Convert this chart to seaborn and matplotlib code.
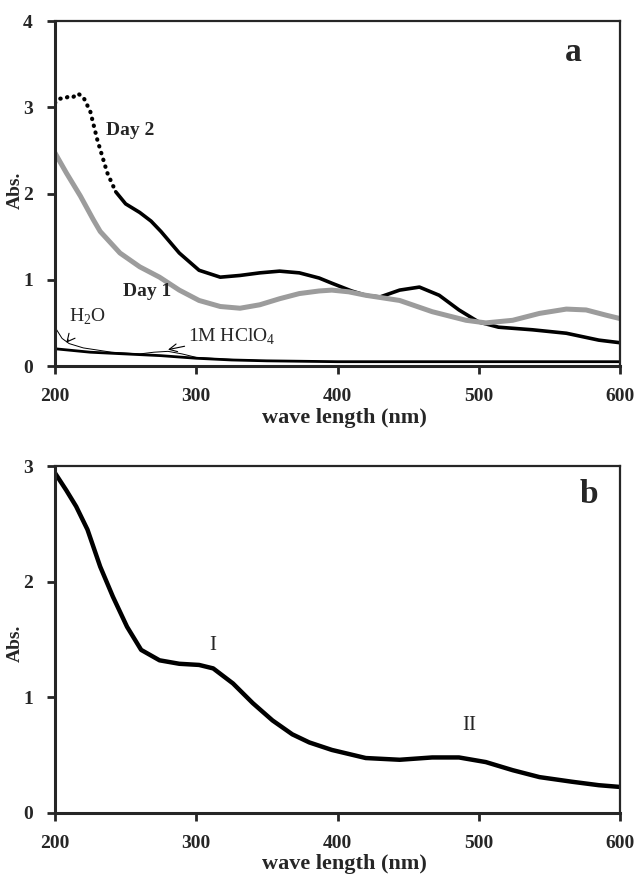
import pandas as pd
import numpy as np
import matplotlib
matplotlib.use("Agg")
import matplotlib.pyplot as plt
import seaborn as sns

# panel a spectra
day2_nm = [200, 203, 207, 210, 213, 216, 220, 225, 230, 237, 243, 250, 260, 268, 275, 288,
           302, 317, 331, 345, 359, 373, 387, 396, 410, 420, 430, 444, 458, 472, 486, 500,
           514, 538, 562, 585, 600]
day2_abs = [3.05, 3.10, 3.10, 3.13, 3.12, 3.16, 3.12, 2.95, 2.62, 2.24, 2.02, 1.88, 1.78, 1.68,
            1.56, 1.31, 1.11, 1.03, 1.05, 1.08, 1.10, 1.08, 1.02, 0.96, 0.87, 0.82, 0.80, 0.88,
            0.915, 0.82, 0.65, 0.51, 0.45, 0.42, 0.38, 0.30, 0.27]

day1_nm = [200, 208, 218, 227, 232, 246, 260, 274, 288, 302, 317, 331, 345, 359, 373, 387,
           396, 408, 420, 444, 467, 491, 505, 524, 543, 562, 576, 590, 600]
day1_abs = [2.47, 2.24, 1.97, 1.70, 1.56, 1.31, 1.15, 1.03, 0.88, 0.76, 0.69, 0.67, 0.71, 0.78,
            0.84, 0.87, 0.88, 0.86, 0.82, 0.76, 0.63, 0.53, 0.50, 0.53, 0.61, 0.66, 0.65, 0.59,
            0.55]

h2o_nm = [200, 225, 250, 275, 300, 325, 350, 400, 500, 600]
h2o_abs = [0.20, 0.16, 0.14, 0.12, 0.09, 0.07, 0.06, 0.05, 0.05, 0.05]

hclo4_nm = [200, 205, 210, 220, 240, 260, 270, 280, 290, 300, 320, 350, 400, 600]
hclo4_abs = [0.45, 0.32, 0.26, 0.21, 0.16, 0.14, 0.16, 0.17, 0.14, 0.10, 0.08, 0.06, 0.05, 0.045]

# panel b spectrum
b_nm = [200, 208, 215, 223, 232, 241, 251, 261, 274, 288, 302, 312, 326, 340, 354, 368, 380,
        396, 420, 444, 467, 486, 505, 524, 543, 566, 585, 600]
b_abs = [2.94, 2.79, 2.65, 2.45, 2.13, 1.87, 1.61, 1.41, 1.32, 1.29, 1.28, 1.25, 1.12, 0.95,
         0.80, 0.68, 0.61, 0.545, 0.475, 0.46, 0.48, 0.48, 0.44, 0.37, 0.31, 0.27, 0.24, 0.225]

sns.set_style("ticks")
plt.rcParams['font.family'] = ['Liberation Serif', 'DejaVu Serif']
plt.rcParams['font.weight'] = 'bold'
plt.rcParams['mathtext.fontset'] = 'custom'
plt.rcParams['mathtext.rm'] = 'Liberation Serif'

fig = plt.figure(figsize=(6.38, 8.75), dpi=100)
ax_a = fig.add_axes([0.0862, 0.5817, 0.8856, 0.3943])
ax_b = fig.add_axes([0.0862, 0.0709, 0.8856, 0.3965])

# --- panel a ---
d2 = pd.DataFrame({"nm": day2_nm, "abs": day2_abs})
k = 11  # steep start of Day 2 is drawn as dots
sns.lineplot(data=d2.iloc[:k], x="nm", y="abs", ax=ax_a, color="black", lw=3,
             dashes=False, linestyle=(0, (0.1, 1.6)), solid_capstyle="round",
             dash_capstyle="round")
sns.lineplot(data=d2.iloc[k - 1:], x="nm", y="abs", ax=ax_a, color="black", lw=2.6)
sns.lineplot(x=day1_nm, y=day1_abs, ax=ax_a, color="#9c9c9c", lw=3.6)
sns.lineplot(x=h2o_nm, y=h2o_abs, ax=ax_a, color="black", lw=2.0)
sns.lineplot(x=hclo4_nm, y=hclo4_abs, ax=ax_a, color="black", lw=0.7)

ax_a.set_ylim(0, 4)
ax_a.set_yticks([0, 1, 2, 3, 4])
ax_a.text(253, 2.73, "Day 2", fontsize=14, ha="center", va="center")
ax_a.text(265, 0.86, "Day 1", fontsize=14, ha="center", va="center")
ax_a.text(567, 3.64, "a", fontsize=24, ha="center", va="center")
ax_a.annotate(r"H$_\mathregular{2}$O", xy=(208, 0.27), xytext=(223, 0.57), fontsize=14,
              ha="center", va="center", fontweight="normal",
              arrowprops=dict(arrowstyle="->", lw=0.8, color="black", shrinkA=9, shrinkB=0))
ax_a.annotate(r"1M HClO$_\mathregular{4}$", xy=(280, 0.19), xytext=(325, 0.34), fontsize=14,
              ha="center", va="center", fontweight="normal",
              arrowprops=dict(arrowstyle="->", lw=0.8, color="black", shrinkA=33, shrinkB=0))

# --- panel b ---
sns.lineplot(x=b_nm, y=b_abs, ax=ax_b, color="black", lw=3.2)
ax_b.set_ylim(0, 3)
ax_b.set_yticks([0, 1, 2, 3])
ax_b.text(312, 1.45, "I", fontsize=15, ha="center", va="center", fontweight="normal")
ax_b.text(493, 0.76, "II", fontsize=15, ha="center", va="center", fontweight="normal")
ax_b.text(578, 2.75, "b", fontsize=24, ha="center", va="center")

for ax, ylab_y, xlab_y in ((ax_a, 0.51, -0.15), (ax_b, 0.49, -0.147)):
    ax.set_xlim(200, 600)
    ax.set_xticks([200, 300, 400, 500, 600])
    ax.tick_params(direction="out", length=6, width=2, labelsize=14, pad=10)
    for lab in ax.get_xticklabels() + ax.get_yticklabels():
        lab.set_fontweight("bold")
    ax.set_xlabel("wave length (nm)", fontsize=16, fontweight="bold", va="center")
    ax.set_ylabel("Abs.", fontsize=14, fontweight="bold", va="center")
    ax.xaxis.set_label_coords(0.513, xlab_y)
    ax.yaxis.set_label_coords(-0.07, ylab_y)
    for side in ("left", "bottom"):
        ax.spines[side].set_linewidth(2.2)
    for side in ("top", "right"):
        ax.spines[side].set_visible(True)
        ax.spines[side].set_linewidth(1.6)

fig.savefig("out.png", dpi=100)
